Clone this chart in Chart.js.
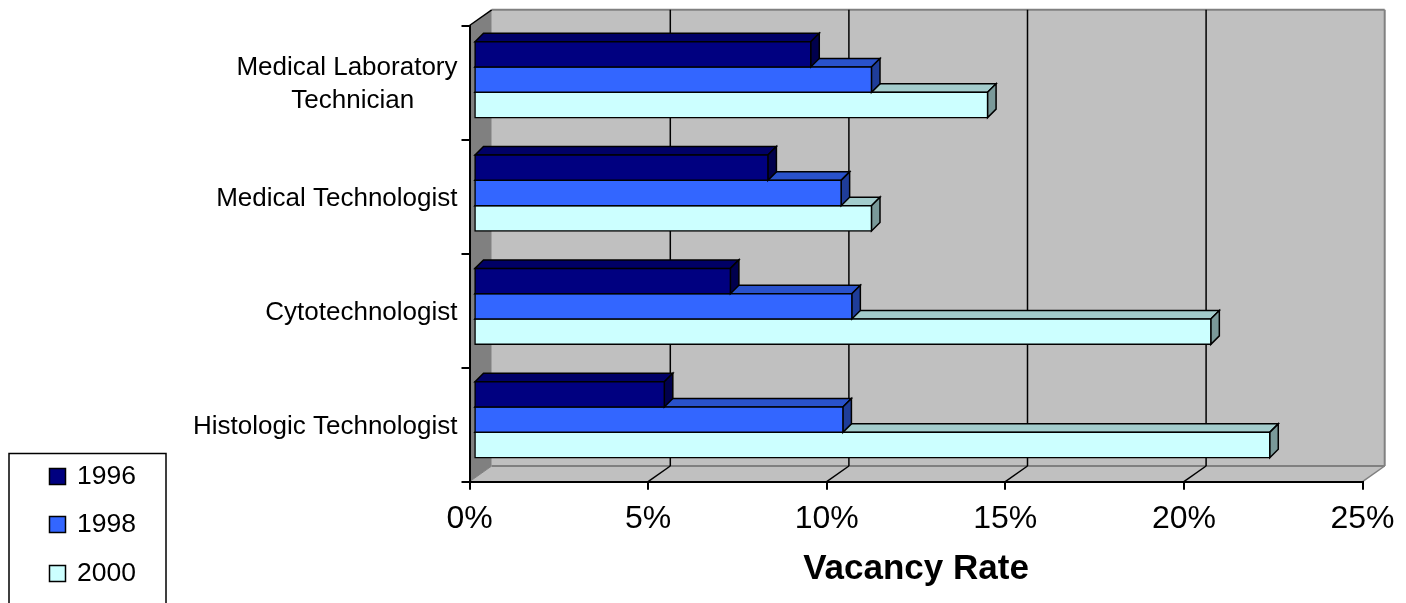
<!DOCTYPE html>
<html>
<head>
<meta charset="utf-8">
<style>
  html, body { margin: 0; padding: 0; background: #fff; overflow: hidden; }
  canvas { display: block; }
</style>
<script src="https://cdn.jsdelivr.net/npm/chart.js@4"></script>
</head>
<body>
<canvas id="chart" width="1406" height="603"></canvas>
<script>
const categories = [
  ["Medical Laboratory", "Technician      "],
  "Medical Technologist",
  "Cytotechnologist",
  "Histologic Technologist",
];
const years = ["1996", "1998", "2000"];
const rate1996 = [9.4, 8.2, 7.15, 5.3];
const rate1998 = [11.1, 10.25, 10.55, 10.3];
const rate2000 = [14.35, 11.1, 20.6, 22.25];
const xTicks = [0, 5, 10, 15, 20, 25];
const axisTitle = "Vacancy Rate";

const FONT = "'Liberation Sans', Arial, sans-serif";
const WALL_DX = 22.2, WALL_DY = -15.7;
const BAR_DX = 8.5, BAR_DY = -8.5;

function poly(ctx, pts, fill, stroke, width) {
  ctx.beginPath();
  pts.forEach((p, i) => (i ? ctx.lineTo(p[0], p[1]) : ctx.moveTo(p[0], p[1])));
  ctx.closePath();
  if (fill) { ctx.fillStyle = fill; ctx.fill(); }
  if (stroke) { ctx.strokeStyle = stroke; ctx.lineWidth = width; ctx.stroke(); }
}

function line(ctx, x1, y1, x2, y2, color, width) {
  ctx.beginPath();
  ctx.moveTo(x1, y1);
  ctx.lineTo(x2, y2);
  ctx.strokeStyle = color;
  ctx.lineWidth = width;
  ctx.stroke();
}

// back wall, side wall, floor
const wallsPlugin = {
  id: "walls",
  beforeDraw(chart) {
    const { ctx, chartArea: a, scales } = chart;
    const l = a.left, r = a.right, t = a.top, b = a.bottom;
    const bl = l + WALL_DX, br = r + WALL_DX, bt = t + WALL_DY, bb = b + WALL_DY;
    ctx.save();
    poly(ctx, [[bl, bt], [br, bt], [br, bb], [bl, bb]], "#c0c0c0");
    poly(ctx, [[l, b], [bl, bb], [br, bb], [r, b]], "#c0c0c0");
    poly(ctx, [[l, t], [bl, bt], [bl, bb], [l, b]], "#808080");
    line(ctx, bl, bt, br, bt, "#808080", 2);
    line(ctx, br, bt, br, bb, "#808080", 2);
    line(ctx, bl, bb, br, bb, "#808080", 2);
    line(ctx, br, bb, r, b, "#808080", 1.5);
    line(ctx, bl, bb, l, b, "#808080", 1);
    line(ctx, l, t, bl, bt, "#000", 1.5);
    xTicks.slice(1, -1).forEach((v) => {
      const px = scales.x.getPixelForValue(v);
      line(ctx, px + WALL_DX, bt, px + WALL_DX, bb, "#000", 1.5);
      line(ctx, px + WALL_DX, bb, px, b, "#000", 1.5);
    });
    ctx.restore();
  },
  // top and end faces of each bar, before the front face gets drawn
  beforeDatasetDraw(chart, args) {
    const { ctx } = chart;
    const ds = chart.data.datasets[args.index];
    ctx.save();
    args.meta.data.forEach((el) => {
      const { x, y, base, height } = el.getProps(["x", "y", "base", "height"], true);
      const top = y - height / 2, bottom = y + height / 2;
      poly(ctx, [[base, top], [base + BAR_DX, top + BAR_DY], [x + BAR_DX, top + BAR_DY], [x, top]], ds.topColor, "#000", 1.5);
      poly(ctx, [[x, top], [x + BAR_DX, top + BAR_DY], [x + BAR_DX, bottom + BAR_DY], [x, bottom]], ds.sideColor, "#000", 1.5);
    });
    ctx.restore();
  },
  afterDraw(chart) {
    const { ctx } = chart;
    ctx.save();
    // legend box runs off the bottom of the page
    ctx.strokeStyle = "#000";
    ctx.lineWidth = 1.5;
    ctx.strokeRect(9, 453.5, 157, 160);
    ctx.font = "26.5px " + FONT;
    ctx.textBaseline = "middle";
    ctx.textAlign = "left";
    const rows = [477, 525, 574];
    chart.data.datasets.forEach((ds, i) => {
      ctx.fillStyle = ds.backgroundColor;
      ctx.fillRect(49.5, rows[i] - 8.5, 16, 16);
      ctx.strokeRect(49.5, rows[i] - 8.5, 16, 16);
      ctx.fillStyle = "#000";
      ctx.fillText(ds.label, 77, rows[i]);
    });
    ctx.restore();
  },
};

function makeSeries(label, values, color, top, side) {
  return {
    label,
    data: values.map((v, i) => ({ x: v, y: i })),
    backgroundColor: color,
    topColor: top,
    sideColor: side,
    borderColor: "#000",
    borderWidth: 1.5,
    borderSkipped: false,
    inflateAmount: 0.75,
    categoryPercentage: 0.67,
    barPercentage: 1,
    xAxisID: "xBar",
    yAxisID: "yBar",
  };
}

new Chart(document.getElementById("chart").getContext("2d"), {
  type: "bar",
  data: {
    datasets: [
      makeSeries(years[0], rate1996, "#000080", "#000066", "#00004d"),
      makeSeries(years[1], rate1998, "#3366ff", "#2952cc", "#1f3d99"),
      makeSeries(years[2], rate2000, "#ccffff", "#a3cccc", "#7a9999"),
    ],
  },
  options: {
    indexAxis: "y",
    responsive: false,
    animation: false,
    layout: { padding: { top: 25.5, right: 43.5, left: 0, bottom: 0 } },
    plugins: { legend: { display: false }, tooltip: { enabled: false } },
    scales: {
      x: {
        type: "linear",
        position: "bottom",
        min: 0,
        max: 25,
        afterBuildTicks(scale) { scale.ticks = xTicks.map((v) => ({ value: v })); },
        afterFit(scale) { scale.height = 121.3; },
        grid: { drawOnChartArea: false, color: "#000", lineWidth: 2, tickLength: 8 },
        border: { display: true, color: "#000", width: 2 },
        ticks: {
          color: "#000",
          padding: 10,
          maxRotation: 0,
          font: { family: FONT, size: 32 },
          callback: (v) => v + "%",
        },
        title: {
          display: true,
          text: axisTitle,
          color: "#000",
          font: { family: FONT, size: 35, weight: "bold" },
          padding: { top: 0, bottom: 13 },
        },
      },
      y: {
        type: "category",
        position: "left",
        labels: categories,
        offset: true,
        reverse: false,
        afterFit(scale) { scale.width = 469.5; },
        grid: { offset: true, drawOnChartArea: false, color: "#000", lineWidth: 2, tickLength: 8 },
        border: { display: true, color: "#000", width: 2 },
        ticks: {
          color: "#000",
          padding: 4,
          autoSkip: false,
          labelOffset: 2,
          font: { family: FONT, size: 26, lineHeight: 1.27 },
        },
      },
      // the bars sit a little inside the front plane, so they get their own hidden axes
      xBar: { type: "linear", axis: "x", position: "bottom", display: false, min: -0.154, max: 24.846 },
      yBar: {
        type: "linear",
        axis: "y",
        position: "left",
        display: false,
        offset: false,
        reverse: true,
        min: -0.478,
        max: 3.547,
        afterBuildTicks(scale) { scale.ticks = categories.map((c, i) => ({ value: i })); },
      },
    },
  },
  plugins: [wallsPlugin],
});
</script>
</body>
</html>
